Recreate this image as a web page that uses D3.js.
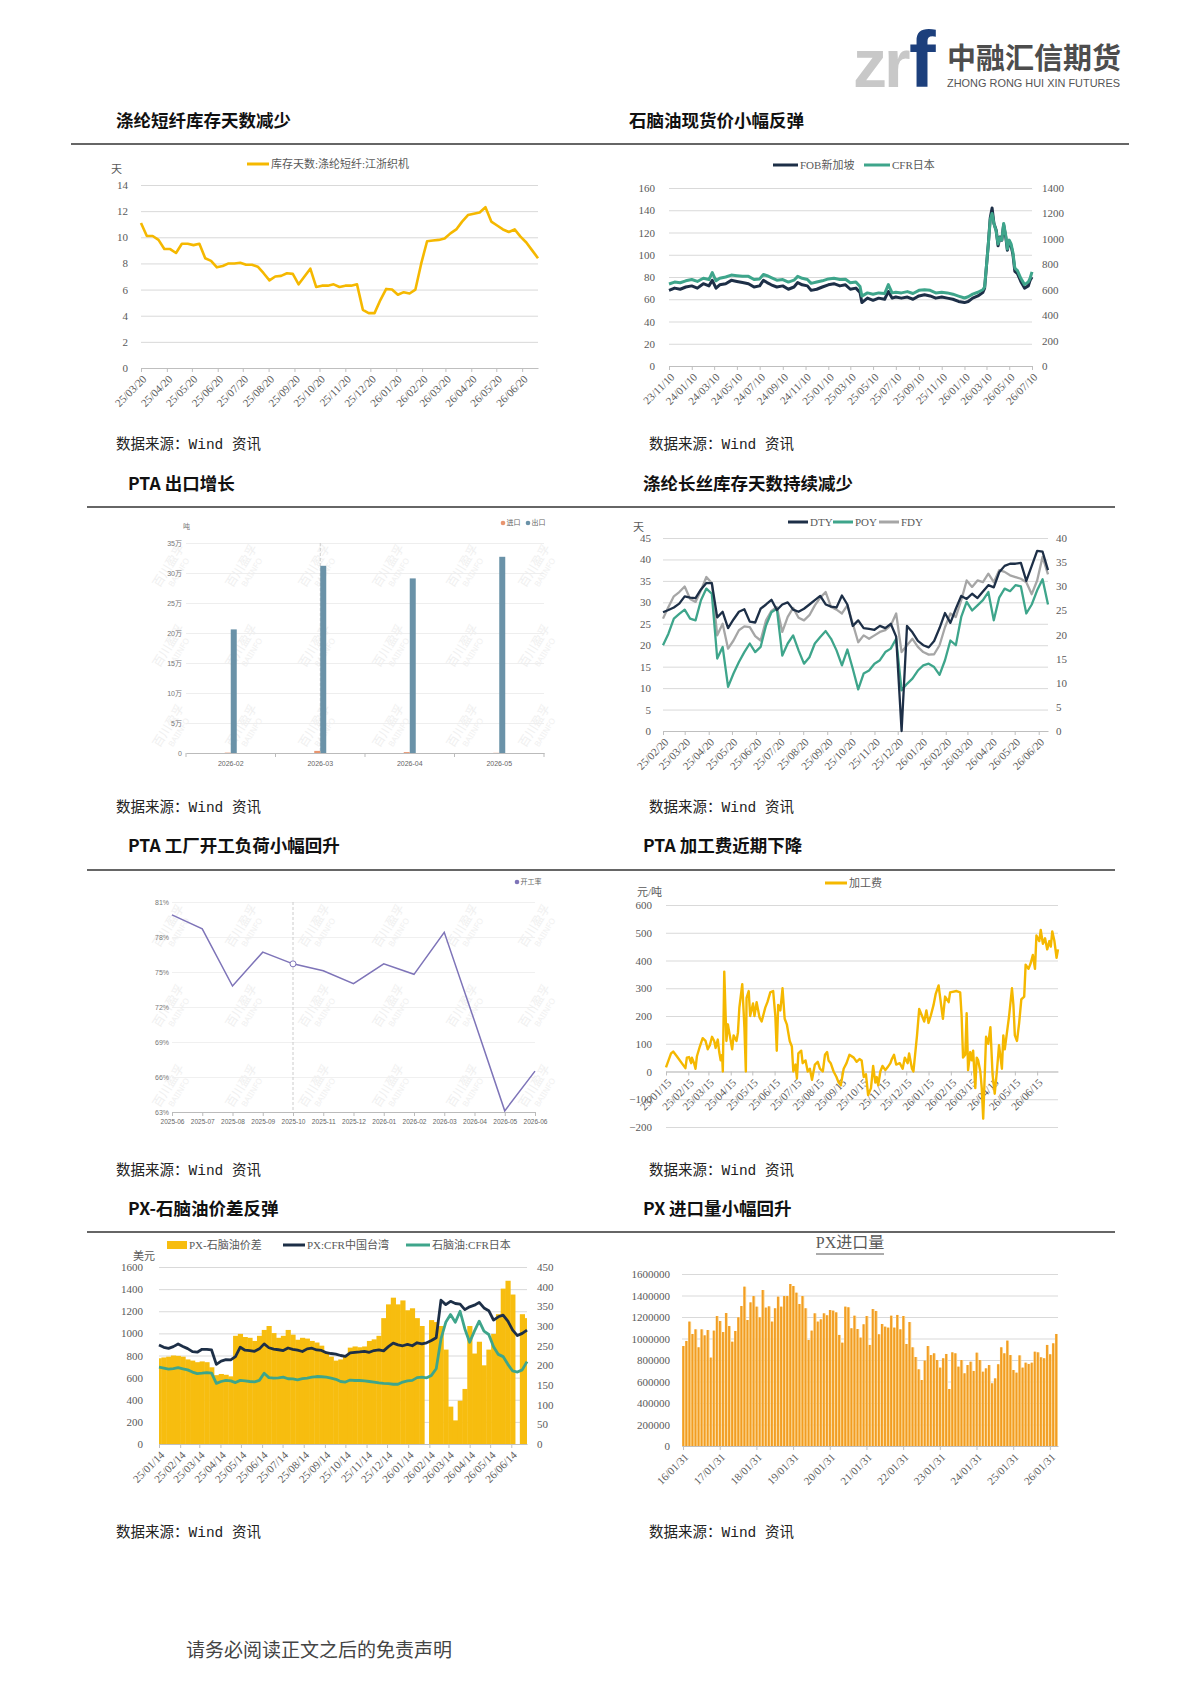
<!DOCTYPE html>
<html>
<head>
<meta charset="utf-8">
<script src="https://cdn.jsdelivr.net/npm/d3@7"></script>
<style>
body { margin: 0; background: #fff; }
</style>
</head>
<body>
<script>
// ---- 涤纶短纤库存天数 (weekly) ----
var psfStart = "2025-03-20";
var psfDays = [11.1, 10.1, 10.1, 9.8, 9.1, 9.1, 8.8, 9.5, 9.5, 9.4, 9.5, 8.4, 8.2, 7.7, 7.8, 8.0, 8.0, 8.05, 7.9, 7.9,
    7.75, 7.25, 6.7, 7.0, 7.05, 7.25, 7.2, 6.4, 7.0, 7.6, 6.2, 6.3, 6.3, 6.4, 6.2, 6.3, 6.3, 6.4, 4.45, 4.2,
    4.2, 5.2, 6.05, 6.0, 5.6, 5.8, 5.7, 6.0, 8.0, 9.7, 9.75, 9.8, 9.9, 10.3, 10.6, 11.2, 11.7, 11.8, 11.9, 12.3,
    11.2, 10.9, 10.6, 10.4, 10.6, 10.05, 9.6, 9.0, 8.4];
var psfTicks = ["2025-03-20", "2025-04-20", "2025-05-20", "2025-06-20", "2025-07-20", "2025-08-20", "2025-09-20",
    "2025-10-20", "2025-11-20", "2025-12-20", "2026-01-20", "2026-02-20", "2026-03-20", "2026-04-20",
    "2026-05-20", "2026-06-20"];

// ---- 石脑油现货价 ----
var naphDates = ["2023-11-10", "2023-11-25", "2023-12-10", "2023-12-25", "2024-01-10", "2024-01-25", "2024-02-10",
    "2024-02-25", "2024-03-05", "2024-03-15", "2024-03-25", "2024-04-10", "2024-04-25", "2024-05-10", "2024-05-25",
    "2024-06-10", "2024-06-25", "2024-07-10", "2024-07-20", "2024-07-30", "2024-08-10", "2024-08-25", "2024-09-10",
    "2024-09-25", "2024-10-10", "2024-10-20", "2024-11-01", "2024-11-15", "2024-11-25", "2024-12-10", "2024-12-25",
    "2025-01-10", "2025-01-25", "2025-02-10", "2025-02-25", "2025-03-10", "2025-03-25", "2025-04-05", "2025-04-10",
    "2025-04-25", "2025-05-10", "2025-05-25", "2025-06-10", "2025-06-20", "2025-06-30", "2025-07-10", "2025-07-25",
    "2025-08-10", "2025-08-25", "2025-09-10", "2025-09-25", "2025-10-10", "2025-10-25", "2025-11-10", "2025-11-25",
    "2025-12-10", "2025-12-25", "2026-01-10", "2026-01-20", "2026-02-01", "2026-02-15", "2026-02-28", "2026-03-05",
    "2026-03-10", "2026-03-15", "2026-03-20", "2026-03-25", "2026-03-30", "2026-04-05", "2026-04-10", "2026-04-15",
    "2026-04-20", "2026-04-25", "2026-05-01", "2026-05-05", "2026-05-10", "2026-05-15", "2026-05-20", "2026-05-25",
    "2026-06-01", "2026-06-10", "2026-06-20", "2026-06-30", "2026-07-05", "2026-07-10"];
var fobSg = [68, 70, 69, 71, 72, 70, 74, 72, 77, 70, 73, 74, 77, 76, 75, 74, 71, 72, 77, 75, 73, 71, 72, 69, 71, 75,
    73, 72, 68, 69, 71, 73, 74, 72, 73, 69, 70, 66, 57, 61, 59, 61, 60, 67, 61, 62, 61, 62, 60, 63, 64, 63, 61, 62,
    61, 60, 58, 57, 58, 61, 63, 66, 70, 90, 110, 133, 142, 128, 122, 108, 116, 113, 127, 115, 104, 112, 108, 100,
    85, 83, 76, 70, 72, 77, 80];
var cfrJp = [645, 660, 655, 670, 680, 665, 690, 680, 735, 670, 690, 700, 715, 710, 705, 705, 680, 685, 720, 710, 695,
    675, 680, 660, 675, 705, 690, 680, 650, 660, 670, 685, 690, 680, 682, 655, 660, 625, 550, 575, 565, 575, 570, 640,
    575, 580, 575, 585, 570, 595, 600, 595, 575, 580, 575, 565, 550, 535, 545, 565, 580, 600, 620, 790, 960, 1150,
    1200, 1120, 1060, 960, 1010, 990, 1120, 1020, 920, 990, 960, 890, 770, 750, 690, 640, 660, 690, 740];
var naphTicks = ["2023-11-10", "2024-01-10", "2024-03-10", "2024-05-10", "2024-07-10", "2024-09-10", "2024-11-10",
    "2025-01-10", "2025-03-10", "2025-05-10", "2025-07-10", "2025-09-10", "2025-11-10", "2026-01-10", "2026-03-10",
    "2026-05-10", "2026-07-10"];

// ---- PTA 进出口 ----
var ptaMonths = ["2026-02", "2026-03", "2026-04", "2026-05"];
var ptaImport = [600, 3500, 1500, 300];
var ptaExport = [206000, 312000, 291000, 327000];

// ---- 涤纶长丝库存天数 (weekly) ----
var filStart = "2025-02-20";
var dty = [27.7, 28.2, 28.8, 29.7, 31.4, 31.1, 31.0, 33.0, 34.5, 34.5,
    26.5, 27.8, 24.0, 26.0, 27.8, 28.4, 25.5, 25.3, 28.5, 29.5,
    30.6, 28.2, 29.5, 30.0, 28.3, 27.8, 28.5, 29.5, 30.5, 31.5,
    29.5, 29.0, 28.8, 31.6, 29.5, 24.5, 25.8, 24.0, 23.8, 23.6,
    24.5, 24.0, 25.0, 22.0, 0, 24.5, 23.0, 21.0, 20.0, 19.5,
    21.0, 24.0, 27.5, 25.2, 28.5, 31.5, 30.8, 32.0, 31.0, 32.5,
    34.0, 33.5, 37.0, 38.5, 39.0, 39.0, 39.2, 35.0, 38.5, 42.0,
    41.8, 37.5];
var poy = [20.0, 22.7, 26.2, 27.3, 28.3, 26.2, 25.8, 30.5, 33.2, 32.0,
    16.9, 19.6, 10.3, 13.4, 16.1, 18.4, 20.4, 18.4, 19.6, 24.6,
    27.7, 28.5, 17.6, 20.4, 22.3, 18.8, 15.7, 17.2, 20.4, 21.9,
    23.3, 21.5, 18.8, 15.3, 19.0, 14.5, 9.7, 13.4, 14.1, 15.7,
    16.5, 18.4, 19.2, 21.5, 9.5, 11.0, 12.2, 14.1, 15.3, 15.7,
    14.9, 13.1, 16.5, 21.1, 20.0, 26.6, 30.1, 28.1, 29.3, 30.5,
    32.4, 25.8, 31.1, 33.2, 32.6, 34.0, 33.7, 27.4, 29.5, 32.8,
    35.4, 29.5];
var fdy = [26.2, 28.9, 31.4, 32.4, 33.7, 30.8, 30.1, 32.8, 35.9, 34.5,
    22.3, 25.0, 19.2, 21.1, 23.5, 24.4, 24.2, 22.1, 21.1, 25.8,
    28.0, 28.9, 23.1, 26.6, 28.7, 26.4, 25.8, 27.0, 29.3, 31.1,
    32.4, 28.9, 28.3, 27.4, 29.3, 25.0, 20.7, 22.3, 21.5, 22.3,
    23.1, 23.5, 24.6, 27.4, 18.4, 20.0, 21.5, 19.6, 18.4, 17.8,
    17.9, 20.0, 24.2, 27.4, 26.6, 30.5, 35.1, 33.6, 35.1, 34.7,
    36.7, 34.7, 37.5, 37.1, 36.3, 35.9, 35.5, 34.7, 31.9, 35.1,
    40.6, 36.5];
var filTicks = ["2025-02-20", "2025-03-20", "2025-04-20", "2025-05-20", "2025-06-20", "2025-07-20", "2025-08-20",
    "2025-09-20", "2025-10-20", "2025-11-20", "2025-12-20", "2026-01-20", "2026-02-20", "2026-03-20", "2026-04-20",
    "2026-05-20", "2026-06-20"];

// ---- PTA 开工率 ----
var runMonths = ["2025-06", "2025-07", "2025-08", "2025-09", "2025-10", "2025-11", "2025-12", "2026-01", "2026-02",
    "2026-03", "2026-04", "2026-05", "2026-06"];
var runRate = [79.9, 78.7, 73.8, 76.7, 75.7, 75.1, 74.0, 75.7, 74.8, 78.4, 70.8, 63.1, 66.5];

// ---- PTA 加工费 ----
var feeDates = ["2025-01-15", "2025-01-22", "2025-01-25", "2025-01-30", "2025-02-11", "2025-02-13", "2025-02-16",
    "2025-02-19", "2025-02-20", "2025-02-23", "2025-02-25", "2025-02-27", "2025-03-03", "2025-03-07", "2025-03-11",
    "2025-03-14", "2025-03-17", "2025-03-20", "2025-03-23", "2025-03-25", "2025-03-28", "2025-03-30", "2025-04-01",
    "2025-04-03", "2025-04-04", "2025-04-06", "2025-04-09", "2025-04-11", "2025-04-13", "2025-04-17", "2025-04-19",
    "2025-04-23", "2025-04-25", "2025-04-27", "2025-05-01", "2025-05-04", "2025-05-06", "2025-05-07", "2025-05-10",
    "2025-05-12", "2025-05-16", "2025-05-18", "2025-05-21", "2025-05-25", "2025-05-28", "2025-06-02", "2025-06-05",
    "2025-06-09", "2025-06-13", "2025-06-16", "2025-06-18", "2025-06-20", "2025-06-23", "2025-06-26", "2025-06-29",
    "2025-07-02", "2025-07-06", "2025-07-09", "2025-07-11", "2025-07-14", "2025-07-16", "2025-07-18", "2025-07-22",
    "2025-07-24", "2025-07-28", "2025-07-31", "2025-08-03", "2025-08-06", "2025-08-10", "2025-08-14", "2025-08-17",
    "2025-08-21", "2025-08-24", "2025-08-27", "2025-08-29", "2025-09-01", "2025-09-05", "2025-09-09", "2025-09-12",
    "2025-09-15", "2025-09-19", "2025-09-23", "2025-09-27", "2025-10-03", "2025-10-07", "2025-10-11", "2025-10-14",
    "2025-10-17", "2025-10-20", "2025-10-23", "2025-10-27", "2025-10-30", "2025-11-02", "2025-11-04", "2025-11-06",
    "2025-11-09", "2025-11-12", "2025-11-16", "2025-11-19", "2025-11-23", "2025-11-25", "2025-11-28", "2025-12-01",
    "2025-12-06", "2025-12-10", "2025-12-13", "2025-12-17", "2025-12-19", "2025-12-23", "2025-12-25", "2025-12-30",
    "2026-01-02", "2026-01-06", "2026-01-09", "2026-01-12", "2026-01-15", "2026-01-18", "2026-01-22", "2026-01-25",
    "2026-01-29", "2026-01-31", "2026-02-04", "2026-02-07", "2026-02-12", "2026-02-14", "2026-02-23", "2026-02-28",
    "2026-03-02", "2026-03-04", "2026-03-07", "2026-03-09", "2026-03-11", "2026-03-14", "2026-03-16", "2026-03-18",
    "2026-03-21", "2026-03-23", "2026-03-25", "2026-03-28", "2026-03-30", "2026-04-01", "2026-04-05", "2026-04-08",
    "2026-04-11", "2026-04-14", "2026-04-17", "2026-04-20", "2026-04-23", "2026-04-27", "2026-04-29", "2026-05-01",
    "2026-05-05", "2026-05-07", "2026-05-11", "2026-05-13", "2026-05-15", "2026-05-18", "2026-05-21", "2026-05-24",
    "2026-05-28", "2026-05-30", "2026-06-03", "2026-06-06", "2026-06-09", "2026-06-12", "2026-06-14", "2026-06-18",
    "2026-06-20", "2026-06-23", "2026-06-26", "2026-06-29", "2026-07-02", "2026-07-04", "2026-07-06", "2026-07-09",
    "2026-07-12", "2026-07-14"];
var feeValues = [15, 65, 72, 55, 12, 50, 52, 30, 50, 30, 10, 55, 90, 120, 110,
    80, 95, 125, 110, 85, 115, 70, 40, 60, 0, 360, 110, 170, 140, 80, 130,
    110, 140, 230, 315, 160, 0, 265, 290, 200, 245, 200, 250, 195, 180, 230, 250,
    285, 290, 200, 75, 240, 220, 300, 190, 170, 110, 90, 0, 25, -25, 65, 75,
    30, 40, 0, 10, -30, 25, 35, 10, 0, 60, 70, 40, 30, 0, -20, -40,
    -50, 10, 30, 60, 50, 35, 45, 40, -20, -10, -85, -60, 20, -40, -20, -50,
    0, 20, 5, 15, 30, 45, 60, 25, 30, 10, 50, 30, 65, 10, 0, 130,
    225, 200, 180, 220, 175, 200, 240, 280, 310, 270, 190, 270, 250, 285, 290, 285,
    200, 50, 60, 210, 5, 70, 40, 75, -60, 50, 40, 0, -60, -170, 125, 100,
    160, -10, -80, 0, 95, 10, 130, 80, 160, 200, 300, 240, 130, 110, 175, 260,
    270, 385, 370, 390, 420, 370, 490, 470, 510, 460, 480, 440, 470, 450, 505, 470,
    410, 440];
var feeTicks = ["2025-01-15", "2025-02-15", "2025-03-15", "2025-04-15", "2025-05-15", "2025-06-15", "2025-07-15",
    "2025-08-15", "2025-09-15", "2025-10-15", "2025-11-15", "2025-12-15", "2026-01-15", "2026-02-15", "2026-03-15",
    "2026-04-15", "2026-05-15", "2026-06-15"];

// ---- PX-石脑油价差 (weekly) ----
var spreadStart = "2025-01-14";
var pxSpread = [218, 220, 222, 225, 224, 222, 215, 212, 208, 210, 208, 195, 175, 178, 176, 172, 275, 280, 272, 270,
    262, 275, 290, 300, 282, 270, 275, 290, 278, 265, 270, 268, 262, 258, 250, 232, 222, 212, 215, 225,
    245, 248, 246, 248, 262, 266, 275, 320, 355, 372, 355, 365, 340, 345, 320, 300, 0, 315, 310, 300,
    240, 95, 60, 110, 140, 300, 230, 260, 200, 240, 280, 330, 395, 415, 380, 0, 330, 320];
var pxCfrTw = [895, 874, 865, 880, 904, 882, 862, 835, 830, 856, 856, 850, 720, 750, 762, 760, 790, 875, 848, 845,
    838, 860, 905, 870, 858, 852, 845, 868, 856, 848, 836, 860, 866, 850, 846, 825, 818, 812, 800, 792,
    824, 829, 833, 838, 829, 845, 850, 842, 880, 912, 896, 888, 900, 888, 915, 905, 915, 935, 960, 1300,
    1260, 1290, 1270, 1265, 1215, 1240, 1255, 1280, 1230, 1205, 1120, 1150, 1165, 1110, 1030, 980, 1000, 1030];
var naphCfrJp = [694, 685, 676, 682, 690, 680, 670, 650, 636, 640, 645, 640, 548, 565, 575, 570, 555, 575, 570, 565,
    562, 575, 640, 600, 595, 598, 604, 590, 588, 580, 590, 596, 604, 610, 608, 604, 596, 585, 565, 560,
    578, 574, 574, 570, 565, 560, 552, 548, 545, 540, 540, 560, 570, 575, 600, 605, 598, 620, 680, 950,
    1100, 1170, 1100, 1200, 1040, 920, 1020, 1110, 1020, 990, 880, 810, 790, 720, 660, 650, 670, 745];
var spreadTicks = ["2025-01-14", "2025-02-14", "2025-03-14", "2025-04-14", "2025-05-14", "2025-06-14", "2025-07-14",
    "2025-08-14", "2025-09-14", "2025-10-14", "2025-11-14", "2025-12-14", "2026-01-14", "2026-02-14", "2026-03-14",
    "2026-04-14", "2026-05-14", "2026-06-14"];

// ---- PX 进口量 (monthly from 2016-01) ----
var pxImportStart = "2016-01-31";
var pxImport = [930000, 977000, 1157000, 1042000, 1085000, 918000, 1085000, 1029000, 1079000, 822000, 1073000, 1209000,
    1163000, 1060000, 1237000, 1116000, 970000, 1070000, 1197000, 1302000, 1482000, 1172000, 1336000, 1395000,
    1296000, 1197000, 1451000, 1287000, 1299000, 1157000, 1281000, 1389000, 1296000, 1395000, 1395000, 1507000,
    1488000, 1426000, 1321000, 1395000, 1281000, 986000, 1073000, 1234000, 1157000, 1178000, 1234000, 1216000,
    1265000, 1259000, 1243000, 1033000, 961000, 1296000, 1290000, 1095000, 1212000, 1088000, 1008000, 1132000,
    1209000, 940000, 1274000, 1256000, 1039000, 1135000, 1110000, 1101000, 1212000, 1101000, 1219000, 1085000,
    1209000, 949000, 1153000, 918000, 828000, 713000, 614000, 794000, 930000, 846000, 862000, 800000,
    729000, 816000, 856000, 530000, 871000, 862000, 738000, 800000, 676000, 753000, 784000, 698000,
    868000, 800000, 691000, 722000, 753000, 583000, 629000, 760000, 918000, 862000, 980000, 846000,
    707000, 682000, 843000, 729000, 775000, 763000, 775000, 877000, 871000, 825000, 816000, 940000,
    853000, 955000, 1042000];
var pxImportTicks = ["16/01/31", "17/01/31", "18/01/31", "19/01/31", "20/01/31", "21/01/31", "22/01/31", "23/01/31",
    "24/01/31", "25/01/31", "26/01/31"];


var parse = d3.timeParse("%Y-%m-%d");
var fmtDay = d3.timeFormat("%y/%m/%d");
var fmtInt = d3.format("d");
var gridColor = "#d9d9d9",
    labelColor = "#595959",
    yellow = "#f5b800",
    navy = "#1d2f47",
    teal = "#3ea58b";

function weekly(start, n) {
    var s = parse(start);
    return d3.range(n).map(function(i) {
        return d3.timeDay.offset(s, 7 * i);
    });
}

var svg = d3.select("body").append("svg")
    .attr("width", 1190)
    .attr("height", 1683)
    .style("font-family", "'Liberation Serif', 'Noto Sans CJK SC', serif");

// y grid + labels using d3 axes
function leftGrid(g, y, ticks, x0, x1, pad, fmt, color, size) {
    var ax = g.append("g")
        .attr("transform", "translate(" + x0 + ",0)")
        .call(d3.axisLeft(y).tickValues(ticks).tickSize(-(x1 - x0)).tickPadding(pad).tickFormat(fmt || fmtInt));
    ax.attr("font-family", null).attr("font-size", size || 11);
    ax.select(".domain").remove();
    ax.selectAll(".tick line").attr("stroke", color || gridColor);
    ax.selectAll(".tick text").attr("fill", labelColor);
    return ax;
}

function rightLabels(g, y, ticks, x, size) {
    var ax = g.append("g")
        .attr("transform", "translate(" + x + ",0)")
        .call(d3.axisRight(y).tickValues(ticks).tickSize(0).tickPadding(0).tickFormat(fmtInt));
    ax.attr("font-family", null).attr("font-size", size || 11);
    ax.select(".domain").remove();
    ax.selectAll(".tick text").attr("fill", labelColor);
}

function rotAxis(g, x, ticks, y0, fmt) {
    var ax = g.append("g")
        .attr("transform", "translate(0," + y0 + ")")
        .call(d3.axisBottom(x).tickValues(ticks).tickSize(4).tickSizeOuter(0).tickFormat(fmt));
    ax.attr("font-family", null).attr("font-size", 11);
    ax.select(".domain").attr("stroke", "#bfbfbf");
    ax.selectAll(".tick line").attr("stroke", "#bfbfbf");
    ax.selectAll(".tick text")
        .attr("fill", labelColor)
        .attr("text-anchor", "end")
        .attr("x", 0)
        .attr("y", 0)
        .attr("dy", "0.35em")
        .attr("transform", "translate(3,9) rotate(-45)");
    return ax;
}

function legendLine(g, x, y, color, label, w) {
    g.append("line")
        .attr("x1", x).attr("x2", x + (w || 22))
        .attr("y1", y).attr("y2", y)
        .attr("stroke", color)
        .attr("stroke-width", 3);
    g.append("text")
        .attr("x", x + (w || 22) + 2)
        .attr("y", y)
        .attr("dy", "0.35em")
        .attr("font-size", 11)
        .attr("fill", labelColor)
        .text(label);
}

function unitText(g, x, y, t, anchor) {
    g.append("text")
        .attr("x", x).attr("y", y)
        .attr("dy", "0.35em")
        .attr("text-anchor", anchor || "start")
        .attr("font-size", 11)
        .attr("fill", labelColor)
        .text(t);
}

function watermarks(g, rows) {
    var cols = [172, 245, 318, 392, 466, 538];
    rows.forEach(function(ry) {
        cols.forEach(function(cx) {
            var w = g.append("g")
                .attr("transform", "translate(" + cx + "," + ry + ") rotate(-58)")
                .attr("fill", "#f0f0f0");
            w.append("text").attr("text-anchor", "middle").attr("font-size", 12)
                .attr("font-family", "'Noto Sans CJK SC'").text("百川盈孚");
            w.append("text").attr("text-anchor", "middle").attr("y", 11).attr("font-size", 8)
                .attr("font-family", "'Noto Sans'").text("BAIINFO");
        });
    });
}

function dotLegend(g, x, y, items) {
    var cx = x;
    items.forEach(function(it) {
        g.append("circle").attr("cx", cx).attr("cy", y).attr("r", 2.3).attr("fill", it.c);
        g.append("text").attr("x", cx + 3.5).attr("y", y).attr("dy", "0.35em")
            .attr("font-size", 7).attr("fill", "#666").text(it.t);
        cx += 7 + it.t.length * 7 + 4;
    });
}

// ---------------- page chrome ----------------
var logo = svg.append("g").attr("font-family", "'Liberation Sans', 'DejaVu Sans', sans-serif");
logo.append("text").attr("x", 853).attr("y", 87).attr("font-size", 68).attr("font-weight", "bold")
    .attr("fill", "#c8c8c8").attr("letter-spacing", -3).text("zr");
logo.append("text").attr("x", 909).attr("y", 87).attr("font-size", 80).attr("font-weight", "bold")
    .attr("fill", "#1c3f7c").text("f");
logo.append("text").attr("x", 947).attr("y", 69).attr("font-size", 29).attr("font-weight", "bold")
    .attr("font-family", "'Noto Sans CJK SC'").attr("fill", "#4d4d4d").text("中融汇信期货");
logo.append("text").attr("x", 947).attr("y", 87).attr("font-size", 11).attr("fill", "#555")
    .attr("textLength", 173).attr("lengthAdjust", "spacingAndGlyphs").text("ZHONG RONG HUI XIN FUTURES");

var headers = [
    {x: 116, y: 121, t: "涤纶短纤库存天数减少"}, {x: 629, y: 121, t: "石脑油现货价小幅反弹"},
    {x: 128, y: 484, t: "PTA 出口增长"}, {x: 643, y: 484, t: "涤纶长丝库存天数持续减少"},
    {x: 128, y: 846, t: "PTA 工厂开工负荷小幅回升"}, {x: 643, y: 846, t: "PTA 加工费近期下降"},
    {x: 128, y: 1209, t: "PX-石脑油价差反弹"}, {x: 643, y: 1209, t: "PX 进口量小幅回升"}
];
svg.selectAll(".hdr")
    .data(headers)
    .enter().append("text")
    .attr("x", function(d) { return d.x; })
    .attr("y", function(d) { return d.y; })
    .attr("dy", "0.35em")
    .attr("font-size", 17.5)
    .attr("font-weight", "bold")
    .attr("font-family", "'Noto Sans CJK SC'")
    .attr("fill", "#111")
    .text(function(d) { return d.t; });

var rules = [{x1: 71, x2: 1129, y: 144}, {x1: 87, x2: 1115, y: 507}, {x1: 87, x2: 1115, y: 870}, {x1: 87, x2: 1115, y: 1232}];
svg.selectAll(".rule")
    .data(rules)
    .enter().append("line")
    .attr("x1", function(d) { return d.x1; })
    .attr("x2", function(d) { return d.x2; })
    .attr("y1", function(d) { return d.y; })
    .attr("y2", function(d) { return d.y; })
    .attr("stroke", "#333")
    .attr("stroke-width", 1.3);

var sources = [444, 807, 1170, 1532];
sources.forEach(function(sy) {
    [116, 649].forEach(function(sx) {
        svg.append("text")
            .attr("x", sx).attr("y", sy).attr("dy", "0.35em")
            .attr("font-size", 14.5)
            .attr("font-family", "'Liberation Mono', 'Noto Sans CJK SC', monospace")
            .attr("fill", "#222")
            .text("数据来源：Wind 资讯");
    });
});

svg.append("text")
    .attr("x", 186).attr("y", 1650).attr("dy", "0.35em")
    .attr("font-size", 19)
    .attr("font-family", "'Noto Sans CJK SC'")
    .attr("fill", "#444")
    .text("请务必阅读正文之后的免责声明");

// ---------------- chart 1: 涤纶短纤库存天数 ----------------
var c1 = svg.append("g");
var psfDates = weekly(psfStart, psfDays.length);
var x1 = d3.scaleTime().domain(d3.extent(psfDates)).range([141, 538]);
var y1 = d3.scaleLinear().domain([0, 14]).range([368, 185]);
leftGrid(c1, y1, d3.range(0, 15, 2), 141, 538, 13);
rotAxis(c1, x1, psfTicks.map(parse), 368, fmtDay);
c1.append("path")
    .datum(psfDays)
    .attr("fill", "none")
    .attr("stroke", yellow)
    .attr("stroke-width", 2.6)
    .attr("stroke-linejoin", "round")
    .attr("d", d3.line()
        .x(function(d, i) { return x1(psfDates[i]); })
        .y(function(d) { return y1(d); }));
unitText(c1, 111, 169, "天");
legendLine(c1, 247, 164, yellow, "库存天数:涤纶短纤:江浙织机");

// ---------------- chart 2: 石脑油 ----------------
var c2 = svg.append("g");
var nd = naphDates.map(parse);
var x2 = d3.scaleTime().domain(d3.extent(nd)).range([669, 1032]);
var y2 = d3.scaleLinear().domain([0, 160]).range([366, 188]);
var y2r = d3.scaleLinear().domain([0, 1400]).range([366, 188]);
leftGrid(c2, y2, d3.range(0, 161, 20), 669, 1032, 14);
rightLabels(c2, y2r, d3.range(0, 1401, 200), 1042);
rotAxis(c2, x2, naphTicks.map(parse), 366, fmtDay);
c2.append("path")
    .datum(fobSg)
    .attr("fill", "none")
    .attr("stroke", navy)
    .attr("stroke-width", 3)
    .attr("stroke-linejoin", "round")
    .attr("d", d3.line()
        .x(function(d, i) { return x2(nd[i]); })
        .y(function(d) { return y2(d); }));
c2.append("path")
    .datum(cfrJp)
    .attr("fill", "none")
    .attr("stroke", teal)
    .attr("stroke-width", 3)
    .attr("stroke-linejoin", "round")
    .attr("d", d3.line()
        .x(function(d, i) { return x2(nd[i]); })
        .y(function(d) { return y2r(d); }));
legendLine(c2, 773, 165, navy, "FOB新加坡", 25);
legendLine(c2, 864, 165, teal, "CFR日本", 26);

// ---------------- chart 3: PTA 进出口 ----------------
var c3 = svg.append("g").attr("font-family", "'Liberation Sans', 'Noto Sans CJK SC', sans-serif");
watermarks(c3, [568, 648, 728]);
var x3 = d3.scaleBand().domain(ptaMonths).range([186, 544]);
var y3 = d3.scaleLinear().domain([0, 350000]).range([753, 543]);
var ax3 = leftGrid(c3, y3, d3.range(0, 350001, 50000), 186, 544, 4, function(d) {
    return d === 0 ? "0" : (d / 10000) + "万";
}, "#eeeeee", 7);
ax3.selectAll(".tick text").attr("fill", "#777");
c3.append("line")
    .attr("x1", x3("2026-03") + x3.bandwidth() / 2)
    .attr("x2", x3("2026-03") + x3.bandwidth() / 2)
    .attr("y1", 543).attr("y2", 753)
    .attr("stroke", "#cccccc")
    .attr("stroke-dasharray", "3,2");
var bx3 = c3.append("g")
    .attr("transform", "translate(0,753)")
    .call(d3.axisBottom(x3).tickSize(0).tickPadding(8));
bx3.attr("font-family", null).attr("font-size", 7);
bx3.select(".domain").attr("stroke", "#bbbbbb");
bx3.selectAll(".tick text").attr("fill", "#666");
c3.selectAll(".sep")
    .data(ptaMonths.concat(["end"]))
    .enter().append("line")
    .attr("x1", function(d, i) { return 186 + i * x3.step(); })
    .attr("x2", function(d, i) { return 186 + i * x3.step(); })
    .attr("y1", 753).attr("y2", 757)
    .attr("stroke", "#bbbbbb");
c3.selectAll(".exp")
    .data(ptaExport)
    .enter().append("rect")
    .attr("x", function(d, i) { return x3(ptaMonths[i]) + x3.bandwidth() / 2; })
    .attr("width", 6)
    .attr("y", function(d) { return y3(d); })
    .attr("height", function(d) { return 753 - y3(d); })
    .attr("fill", "#6a92a8");
c3.selectAll(".imp")
    .data(ptaImport)
    .enter().append("rect")
    .attr("x", function(d, i) { return x3(ptaMonths[i]) + x3.bandwidth() / 2 - 6; })
    .attr("width", 6)
    .attr("y", function(d) { return y3(d); })
    .attr("height", function(d) { return 753 - y3(d); })
    .attr("fill", "#e8956f");
c3.append("text").attr("x", 183).attr("y", 529).attr("font-size", 7).attr("fill", "#777").text("吨");
dotLegend(c3, 503, 523, [{c: "#e8956f", t: "进口"}, {c: "#6a92a8", t: "出口"}]);

// ---------------- chart 4: 涤纶长丝库存天数 ----------------
var c4 = svg.append("g");
var filDates = weekly(filStart, dty.length);
var x4 = d3.scaleTime().domain(d3.extent(filDates)).range([663, 1048]);
var y4 = d3.scaleLinear().domain([0, 45]).range([731, 538]);
var y4r = d3.scaleLinear().domain([0, 40]).range([731, 538]);
leftGrid(c4, y4, d3.range(0, 46, 5), 663, 1048, 12);
rightLabels(c4, y4r, d3.range(0, 41, 5), 1056);
rotAxis(c4, x4, filTicks.map(parse), 731, fmtDay);
[{v: fdy, c: "#a6a6a6"}, {v: poy, c: teal}, {v: dty, c: navy}].forEach(function(s) {
    c4.append("path")
        .datum(s.v)
        .attr("fill", "none")
        .attr("stroke", s.c)
        .attr("stroke-width", 2.3)
        .attr("stroke-linejoin", "round")
        .attr("d", d3.line()
            .x(function(d, i) { return x4(filDates[i]); })
            .y(function(d) { return y4(d); }));
});
unitText(c4, 633, 527, "天");
legendLine(c4, 788, 522, navy, "DTY", 20);
legendLine(c4, 833, 522, teal, "POY", 20);
legendLine(c4, 879, 522, "#a6a6a6", "FDY", 20);

// ---------------- chart 5: PTA 开工率 ----------------
var c5 = svg.append("g").attr("font-family", "'Liberation Sans', 'Noto Sans CJK SC', sans-serif");
watermarks(c5, [928, 1008, 1088]);
var x5 = d3.scalePoint().domain(runMonths).range([172, 535]);
var y5 = d3.scaleLinear().domain([63, 81]).range([1112, 902]);
var ax5 = leftGrid(c5, y5, d3.range(63, 82, 3), 172, 535, 3, function(d) { return d + "%"; }, "#f0f0f0", 7);
ax5.selectAll(".tick text").attr("fill", "#777");
c5.append("line")
    .attr("x1", x5("2025-10")).attr("x2", x5("2025-10"))
    .attr("y1", 902).attr("y2", 1112)
    .attr("stroke", "#cccccc")
    .attr("stroke-dasharray", "3,2");
var bx5 = c5.append("g")
    .attr("transform", "translate(0,1112)")
    .call(d3.axisBottom(x5).tickSize(4).tickPadding(3));
bx5.attr("font-family", null).attr("font-size", 7);
bx5.select(".domain").attr("stroke", "#bbbbbb");
bx5.selectAll(".tick line").attr("stroke", "#bbbbbb");
bx5.selectAll(".tick text")
    .attr("fill", "#666")
    .attr("textLength", 24)
    .attr("lengthAdjust", "spacingAndGlyphs");
c5.append("path")
    .datum(runRate)
    .attr("fill", "none")
    .attr("stroke", "#7e74b8")
    .attr("stroke-width", 1.5)
    .attr("d", d3.line()
        .x(function(d, i) { return x5(runMonths[i]); })
        .y(function(d) { return y5(d); }));
c5.append("circle")
    .attr("cx", x5("2025-10"))
    .attr("cy", y5(runRate[runMonths.indexOf("2025-10")]))
    .attr("r", 3)
    .attr("fill", "#fff")
    .attr("stroke", "#7e74b8");
dotLegend(c5, 517, 882, [{c: "#7e74b8", t: "开工率"}]);

// ---------------- chart 6: PTA 加工费 ----------------
var c6 = svg.append("g");
var fd = feeDates.map(parse);
var x6 = d3.scaleTime().domain(d3.extent(fd)).range([666, 1058]);
var y6 = d3.scaleLinear().domain([-200, 600]).range([1127, 905]);
leftGrid(c6, y6, d3.range(-200, 601, 100), 666, 1058, 14);
rotAxis(c6, x6, feeTicks.map(parse), y6(0), fmtDay);
c6.append("path")
    .datum(feeValues)
    .attr("fill", "none")
    .attr("stroke", yellow)
    .attr("stroke-width", 2.4)
    .attr("stroke-linejoin", "round")
    .attr("d", d3.line()
        .x(function(d, i) { return x6(fd[i]); })
        .y(function(d) { return y6(d); }));
unitText(c6, 637, 892, "元/吨");
legendLine(c6, 825, 883, yellow, "加工费");

// ---------------- chart 7: PX-石脑油价差 ----------------
var c7 = svg.append("g");
var sd = weekly(spreadStart, pxSpread.length);
var x7 = d3.scaleTime().domain(d3.extent(sd)).range([159, 527]);
var y7 = d3.scaleLinear().domain([0, 1600]).range([1444, 1267]);
var y7r = d3.scaleLinear().domain([0, 450]).range([1444, 1267]);
leftGrid(c7, y7, d3.range(0, 1601, 200), 159, 527, 16);
rightLabels(c7, y7r, d3.range(0, 451, 50), 537);
c7.append("clipPath").attr("id", "clip7")
    .append("rect").attr("x", 159).attr("y", 1250).attr("width", 368).attr("height", 200);
var bw7 = x7(sd[1]) - x7(sd[0]);
c7.append("g")
    .attr("clip-path", "url(#clip7)")
    .selectAll("rect")
    .data(pxSpread)
    .enter().append("rect")
    .attr("x", function(d, i) { return x7(sd[i]) - bw7 / 2; })
    .attr("width", bw7 + 0.4)
    .attr("y", function(d) { return y7r(d); })
    .attr("height", function(d) { return 1444 - y7r(d); })
    .attr("fill", "#f7bd0f");
rotAxis(c7, x7, spreadTicks.map(parse), 1444, fmtDay);
c7.append("path")
    .datum(pxCfrTw)
    .attr("fill", "none")
    .attr("stroke", navy)
    .attr("stroke-width", 2.8)
    .attr("stroke-linejoin", "round")
    .attr("d", d3.line()
        .x(function(d, i) { return x7(sd[i]); })
        .y(function(d) { return y7(d); }));
c7.append("path")
    .datum(naphCfrJp)
    .attr("fill", "none")
    .attr("stroke", teal)
    .attr("stroke-width", 2.8)
    .attr("stroke-linejoin", "round")
    .attr("d", d3.line()
        .x(function(d, i) { return x7(sd[i]); })
        .y(function(d) { return y7(d); }));
unitText(c7, 155, 1256, "美元", "end");
c7.append("rect").attr("x", 167).attr("y", 1241).attr("width", 20).attr("height", 8).attr("fill", "#f7bd0f");
c7.append("text").attr("x", 189).attr("y", 1245).attr("dy", "0.35em").attr("font-size", 11)
    .attr("fill", labelColor).text("PX-石脑油价差");
legendLine(c7, 283, 1245, navy, "PX:CFR中国台湾");
legendLine(c7, 406, 1245, teal, "石脑油:CFR日本", 24);

// ---------------- chart 8: PX 进口量 ----------------
var c8 = svg.append("g");
var s8 = parse(pxImportStart);
var pxMonths = pxImport.map(function(d, i) {
    return fmtDay(d3.timeDay.offset(d3.timeMonth.offset(d3.timeMonth.floor(s8), i + 1), -1));
});
var x8 = d3.scaleBand().domain(pxMonths).range([682, 1058]);
var y8 = d3.scaleLinear().domain([0, 1600000]).range([1446, 1274]);
leftGrid(c8, y8, d3.range(0, 1600001, 200000), 682, 1058, 12);
var bars8 = c8.selectAll(".b8")
    .data(pxImport)
    .enter().append("g");
bars8.append("rect")
    .attr("x", function(d, i) { return x8(pxMonths[i]); })
    .attr("width", x8.bandwidth())
    .attr("y", function(d) { return y8(d); })
    .attr("height", function(d) { return 1446 - y8(d); })
    .attr("fill", "#fbd590");
bars8.append("rect")
    .attr("x", function(d, i) { return x8(pxMonths[i]) + 0.3; })
    .attr("width", x8.bandwidth() * 0.6)
    .attr("y", function(d) { return y8(d); })
    .attr("height", function(d) { return 1446 - y8(d); })
    .attr("fill", "#f29d22");
rotAxis(c8, x8, pxImportTicks, 1446, function(d) { return d; });
c8.append("text")
    .attr("x", 850).attr("y", 1248)
    .attr("text-anchor", "middle")
    .attr("font-size", 16)
    .attr("fill", labelColor)
    .text("PX进口量");
c8.append("line")
    .attr("x1", 816).attr("x2", 884)
    .attr("y1", 1254).attr("y2", 1254)
    .attr("stroke", labelColor);
</script>
</body>
</html>
